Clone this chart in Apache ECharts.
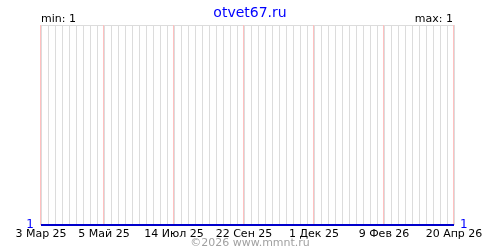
<!DOCTYPE html>
<html>
<head>
<meta charset="utf-8">
<script src="https://cdn.jsdelivr.net/npm/echarts@6/dist/echarts.min.js"></script>
<style>html,body{margin:0;padding:0;background:#fff}#c{width:500px;height:250px}</style>
</head>
<body>
<div id="c"></div>
<script>
// weeks from 3 Mar 25 to 20 Apr 26 (60 weekly points)
var weeks = [];
for (var i = 0; i < 60; i++) weeks.push(String(i));
var values = [1,1,1,1,1,1,1,1,1,1, 1,1,1,1,1,1,1,1,1,1, 1,1,1,1,1,1,1,1,1,1,
              1,1,1,1,1,1,1,1,1,1, 1,1,1,1,1,1,1,1,1,1, 1,1,1,1,1,1,1,1,1,1];
var tickWeeks = [0, 9, 19, 29, 39, 49, 59];
var tickLabels = ['3 Мар 25', '5 Май 25', '14 Июл 25', '22 Сен 25', '1 Дек 25', '9 Фев 26', '20 Апр 26'];
var minVal = 1, maxVal = 1;

var chart = echarts.init(document.getElementById('c'), null, {renderer: 'canvas'});
var font = 'DejaVu Sans';
function isTick(idx) { return tickWeeks.indexOf(idx) >= 0; }
chart.setOption({
  animation: false,
  title: {
    text: 'otvet67.ru', left: 'center', top: 1,
    textStyle: {color: '#0000ff', fontSize: 14, fontWeight: 'normal', fontFamily: font}
  },
  graphic: [
    {type: 'text', left: 41, top: 14, style: {text: 'min: ' + minVal, fill: '#000', font: '11px ' + font}},
    {type: 'text', right: 47, top: 14, style: {text: 'max: ' + maxVal, fill: '#000', font: '11px ' + font}},
    {type: 'text', left: 'center', top: 238, style: {text: '©2026 www.mmnt.ru', fill: '#a0a0a0', font: '11px ' + font}}
  ],
  grid: {left: 41, right: 46, top: 25, bottom: 25},
  xAxis: {
    type: 'category', data: weeks, boundaryGap: false,
    axisLine: {show: false}, axisTick: {show: false},
    splitLine: {show: true, interval: 0, lineStyle: {color: '#dcdcdc', width: 1}},
    axisLabel: {
      interval: function (idx) { return isTick(idx); },
      formatter: function (v, idx) { var k = tickWeeks.indexOf(idx); return k >= 0 ? tickLabels[k] : ''; },
      color: '#000', fontSize: 11, fontFamily: font, margin: 4
    }
  },
  yAxis: [
    {
      type: 'value', min: 1, max: 2, interval: 1, position: 'left',
      axisLine: {show: false}, axisTick: {show: false},
      splitLine: {show: true, lineStyle: {color: '#dcdcdc'}},
      axisLabel: {formatter: function (v) { return v === 1 ? '1' : ''; }, color: '#0000ff', fontSize: 12, fontFamily: font, margin: 7, padding: [0, 0, 2, 0]}
    },
    {
      type: 'value', min: 1, max: 2, interval: 1, position: 'right',
      axisLine: {show: false}, axisTick: {show: false}, splitLine: {show: false},
      axisLabel: {formatter: function (v) { return v === 1 ? '1' : ''; }, color: '#0000ff', fontSize: 12, fontFamily: font, margin: 6, padding: [0, 0, 2, 0]}
    }
  ],
  series: [
    {
      type: 'custom', z: 2, silent: true, clip: false,
      data: tickWeeks.map(function (w) { return [w]; }),
      renderItem: function (params, api) {
        var p = api.coord([api.value(0), 1]);
        var x = Math.round(p[0]) - 0.5;
        var cs = params.coordSys;
        return {
          type: 'line',
          shape: {x1: x, y1: cs.y, x2: x, y2: cs.y + cs.height},
          style: {stroke: '#ffc0c0', lineWidth: 1}
        };
      }
    },
    {
      type: 'line', data: values, symbol: 'none', z: 5,
      lineStyle: {color: '#0000cc', width: 2}
    }
  ]
});
</script>
</body>
</html>
